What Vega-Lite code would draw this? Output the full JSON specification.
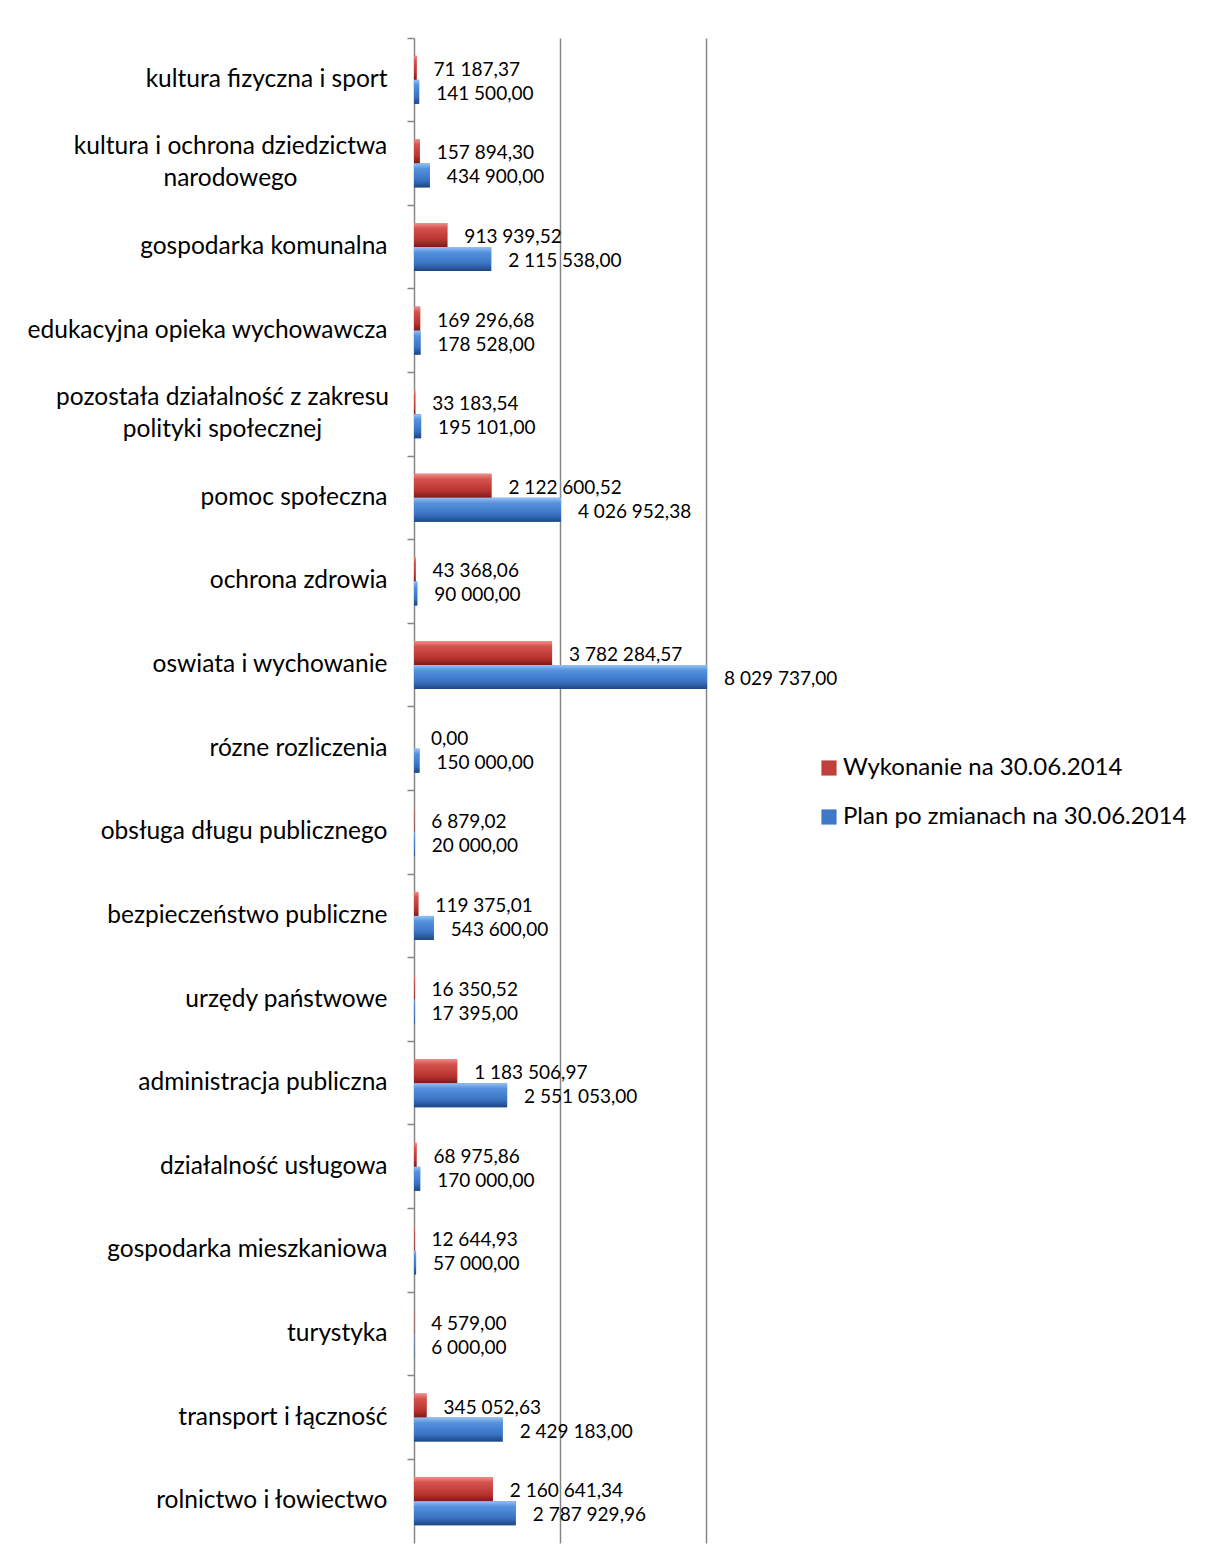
{
  "$schema": "https://vega.github.io/schema/vega-lite/v6.json",
  "autosize": "none",
  "padding": {"left": 414, "top": 38, "right": 500, "bottom": 23},
  "width": 292,
  "height": 1505,
  "background": "white",
  "config": {
    "locale": {"number": {"decimal": ",", "thousands": " ", "grouping": [3], "currency": ["", " zł"]}},
    "view": {"stroke": null},
    "font": "Lato"
  },
  "data": {
    "values": [
      {"kat": "kultura fizyczna i sport", "series": "Wykonanie na 30.06.2014", "val": 71187.37},
      {"kat": "kultura fizyczna i sport", "series": "Plan po zmianach na 30.06.2014", "val": 141500.00},
      {"kat": "kultura i ochrona dziedzictwa|narodowego", "series": "Wykonanie na 30.06.2014", "val": 157894.30},
      {"kat": "kultura i ochrona dziedzictwa|narodowego", "series": "Plan po zmianach na 30.06.2014", "val": 434900.00},
      {"kat": "gospodarka komunalna", "series": "Wykonanie na 30.06.2014", "val": 913939.52},
      {"kat": "gospodarka komunalna", "series": "Plan po zmianach na 30.06.2014", "val": 2115538.00},
      {"kat": "edukacyjna opieka wychowawcza", "series": "Wykonanie na 30.06.2014", "val": 169296.68},
      {"kat": "edukacyjna opieka wychowawcza", "series": "Plan po zmianach na 30.06.2014", "val": 178528.00},
      {"kat": "pozostała działalność z zakresu|polityki społecznej", "series": "Wykonanie na 30.06.2014", "val": 33183.54},
      {"kat": "pozostała działalność z zakresu|polityki społecznej", "series": "Plan po zmianach na 30.06.2014", "val": 195101.00},
      {"kat": "pomoc społeczna", "series": "Wykonanie na 30.06.2014", "val": 2122600.52},
      {"kat": "pomoc społeczna", "series": "Plan po zmianach na 30.06.2014", "val": 4026952.38},
      {"kat": "ochrona zdrowia", "series": "Wykonanie na 30.06.2014", "val": 43368.06},
      {"kat": "ochrona zdrowia", "series": "Plan po zmianach na 30.06.2014", "val": 90000.00},
      {"kat": "oswiata i wychowanie", "series": "Wykonanie na 30.06.2014", "val": 3782284.57},
      {"kat": "oswiata i wychowanie", "series": "Plan po zmianach na 30.06.2014", "val": 8029737.00},
      {"kat": "rózne rozliczenia", "series": "Wykonanie na 30.06.2014", "val": 0.00},
      {"kat": "rózne rozliczenia", "series": "Plan po zmianach na 30.06.2014", "val": 150000.00},
      {"kat": "obsługa długu publicznego", "series": "Wykonanie na 30.06.2014", "val": 6879.02},
      {"kat": "obsługa długu publicznego", "series": "Plan po zmianach na 30.06.2014", "val": 20000.00},
      {"kat": "bezpieczeństwo publiczne", "series": "Wykonanie na 30.06.2014", "val": 119375.01},
      {"kat": "bezpieczeństwo publiczne", "series": "Plan po zmianach na 30.06.2014", "val": 543600.00},
      {"kat": "urzędy państwowe", "series": "Wykonanie na 30.06.2014", "val": 16350.52},
      {"kat": "urzędy państwowe", "series": "Plan po zmianach na 30.06.2014", "val": 17395.00},
      {"kat": "administracja publiczna", "series": "Wykonanie na 30.06.2014", "val": 1183506.97},
      {"kat": "administracja publiczna", "series": "Plan po zmianach na 30.06.2014", "val": 2551053.00},
      {"kat": "działalność usługowa", "series": "Wykonanie na 30.06.2014", "val": 68975.86},
      {"kat": "działalność usługowa", "series": "Plan po zmianach na 30.06.2014", "val": 170000.00},
      {"kat": "gospodarka mieszkaniowa", "series": "Wykonanie na 30.06.2014", "val": 12644.93},
      {"kat": "gospodarka mieszkaniowa", "series": "Plan po zmianach na 30.06.2014", "val": 57000.00},
      {"kat": "turystyka", "series": "Wykonanie na 30.06.2014", "val": 4579.00},
      {"kat": "turystyka", "series": "Plan po zmianach na 30.06.2014", "val": 6000.00},
      {"kat": "transport i łączność", "series": "Wykonanie na 30.06.2014", "val": 345052.63},
      {"kat": "transport i łączność", "series": "Plan po zmianach na 30.06.2014", "val": 2429183.00},
      {"kat": "rolnictwo i łowiectwo", "series": "Wykonanie na 30.06.2014", "val": 2160641.34},
      {"kat": "rolnictwo i łowiectwo", "series": "Plan po zmianach na 30.06.2014", "val": 2787929.96}
    ]
  },
  "encoding": {
    "y": {
      "field": "kat", "type": "nominal", "sort": null,
      "scale": {"paddingInner": 0.426, "paddingOuter": 0.213},
      "axis": {
        "title": null, "labelFont": "Lato", "labelFontSize": 24.5, "labelColor": "#000000",
        "labelPadding": {"condition": [
          {"test": "indexof(datum.value, 'kultura i ochrona') >= 0", "value": 177},
          {"test": "indexof(datum.value, 'pozostała') >= 0", "value": 185}
        ], "value": 20},
        "labelAlign": {"condition": {"test": "indexof(datum.value, '|') >= 0", "value": "center"}, "value": "right"},
        "labelOffset": {"condition": {"test": "indexof(datum.value, '|') >= 0", "value": -16}, "value": 0},
        "tickSize": 7, "tickColor": "#868686", "tickWidth": 1.5,
        "domainColor": "#868686", "domainWidth": 1.5, "labelLimit": 500, "labelLineHeight": 32,
        "bandPosition": -0.371, "grid": false, "labelExpr": "split(datum.label, '|')"
      }
    },
    "yOffset": {
      "field": "series", "type": "nominal",
      "scale": {"domain": ["Wykonanie na 30.06.2014", "Plan po zmianach na 30.06.2014"], "paddingInner": 0, "paddingOuter": 0}
    },
    "x": {
      "field": "val", "type": "quantitative",
      "scale": {"domain": [0, 8000000], "nice": false},
      "axis": {"title": null, "labels": false, "ticks": false, "domain": false, "grid": true,
               "values": [4000000, 8000000], "gridColor": "#868686", "gridWidth": 1.5}
    }
  },
  "layer": [
    {
      "mark": {"type": "bar", "clip": false},
      "encoding": {
        "color": {
          "field": "series", "type": "nominal",
          "scale": {
            "domain": ["Wykonanie na 30.06.2014", "Plan po zmianach na 30.06.2014"],
            "range": ["#c0403c", "#3f78c6"]
          },
          "legend": {
            "title": null, "orient": "none", "legendX": 403, "legendY": 718,
            "symbolType": "square", "symbolSize": 230, "symbolStrokeWidth": 0,
            "labelFont": "Lato", "labelFontSize": 24, "labelColor": "#000000",
            "rowPadding": 25, "labelOffset": 2, "labelLimit": 500
          }
        }
      }
    },
    {
      "transform": [{"filter": "datum.series == 'Wykonanie na 30.06.2014'"}],
      "mark": {"type": "bar", "clip": false,
        "fill": {"gradient": "linear", "x1": 0, "y1": 0, "x2": 0, "y2": 1,
          "stops": [{"offset": 0, "color": "#ee8e8a"}, {"offset": 0.22, "color": "#d4524d"}, {"offset": 0.7, "color": "#b93430"}, {"offset": 1, "color": "#7a1b19"}]}}
    },
    {
      "transform": [{"filter": "datum.series == 'Plan po zmianach na 30.06.2014'"}],
      "mark": {"type": "bar", "clip": false,
        "fill": {"gradient": "linear", "x1": 0, "y1": 0, "x2": 0, "y2": 1,
          "stops": [{"offset": 0, "color": "#98c0f2"}, {"offset": 0.22, "color": "#5492de"}, {"offset": 0.7, "color": "#3a72c2"}, {"offset": 1, "color": "#1c4682"}]}}
    },
    {
      "mark": {"type": "text", "align": "left", "baseline": "middle", "dx": 17, "dy": 2, "fontSize": 19, "font": "Lato", "color": "#000000"},
      "encoding": {
        "text": {"field": "val", "type": "quantitative", "format": ",.2f"}
      }
    }
  ]
}
